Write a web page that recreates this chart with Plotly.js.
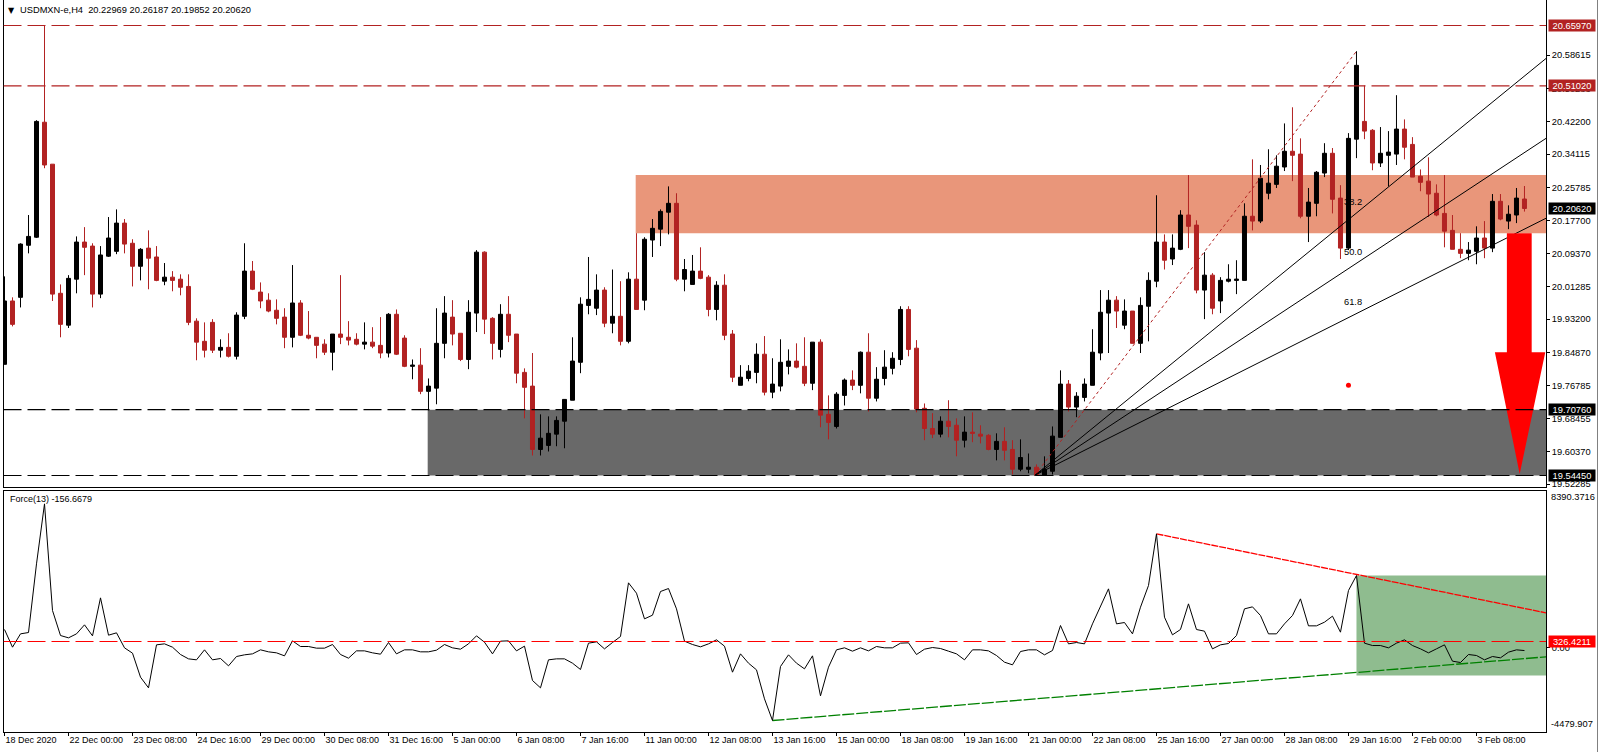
<!DOCTYPE html>
<html><head><meta charset="utf-8">
<script src="https://cdn.plot.ly/plotly-3.0.1.min.js"></script>
<style>html,body{margin:0;padding:0;background:#fff;overflow:hidden}#c{width:1599px;height:752px}</style>
</head><body><div id="c"></div>
<script>
const opens=[19.820,19.977,19.986,20.115,20.135,20.420,20.316,19.996,19.917,20.031,
20.123,20.113,19.994,20.088,20.100,20.170,20.120,20.063,20.108,20.086,
20.026,20.036,20.031,20.013,19.927,19.877,19.924,19.855,19.862,19.840,
19.939,20.051,19.999,19.979,19.954,19.937,19.887,19.972,19.892,19.887,
19.870,19.850,19.895,19.887,19.882,19.870,19.875,19.867,19.848,19.944,
19.885,19.815,19.818,19.753,19.761,19.872,19.937,19.897,19.832,19.947,
20.098,19.934,19.857,19.944,19.895,19.800,19.766,19.609,19.619,19.647,
19.679,19.731,19.825,19.966,19.959,20.004,19.922,19.939,19.877,20.031,
19.979,20.128,20.155,20.197,20.219,20.031,20.018,20.051,20.036,19.956,
20.016,19.895,19.768,19.785,19.800,19.845,19.751,19.766,19.815,19.828,
19.815,19.773,19.875,19.696,19.666,19.743,19.781,19.768,19.850,19.736,
19.785,19.810,19.832,19.956,19.860,19.711,19.661,19.647,19.679,19.669,
19.632,19.652,19.647,19.644,19.609,19.629,19.609,19.560,19.560,19.565,
19.545,19.555,19.639,19.771,19.714,19.738,19.768,19.848,19.947,19.979,
19.917,19.952,19.872,19.964,20.026,20.123,20.081,20.105,20.190,20.165,
20.004,20.041,19.977,20.026,20.028,20.028,20.187,20.175,20.244,20.266,
20.309,20.348,20.341,20.187,20.219,20.294,20.343,20.232,20.108,20.378,
20.422,20.400,20.319,20.338,20.341,20.403,20.365,20.286,20.274,20.244,
20.194,20.152,20.105,20.095,20.100,20.133,20.108,20.224,20.175,20.190,
20.22969];
const highs=[20.038,19.986,20.120,20.190,20.425,20.660,20.316,20.018,20.041,20.137,
20.160,20.120,20.113,20.185,20.204,20.180,20.130,20.108,20.152,20.113,
20.071,20.051,20.043,20.043,19.934,19.924,19.932,19.882,19.897,19.949,
20.120,20.076,20.023,19.996,19.981,19.959,20.066,19.979,19.952,19.887,
19.882,19.895,20.041,19.927,19.897,19.924,19.912,19.937,19.947,19.956,
19.892,19.832,19.860,19.785,19.959,19.989,19.979,19.897,19.979,20.103,
20.100,19.937,19.969,19.989,19.895,19.810,19.848,19.696,19.691,19.691,
19.733,19.887,19.986,20.086,20.043,20.011,20.055,20.026,20.048,20.145,
20.135,20.180,20.204,20.261,20.244,20.081,20.091,20.110,20.041,20.026,
20.043,19.905,19.818,19.818,19.872,19.890,19.835,19.882,19.857,19.872,
19.887,19.875,19.882,19.743,19.751,19.785,19.805,19.852,19.897,19.813,
19.855,19.850,19.964,19.964,19.880,19.723,19.699,19.691,19.731,19.686,
19.691,19.701,19.669,19.647,19.649,19.664,19.632,19.634,19.599,19.572,
19.592,19.666,19.805,19.781,19.751,19.785,19.907,20.004,20.004,19.989,
19.981,19.952,19.986,20.048,20.239,20.142,20.142,20.202,20.289,20.177,
20.098,20.046,20.036,20.068,20.078,20.219,20.328,20.314,20.353,20.338,
20.417,20.457,20.380,20.257,20.299,20.368,20.356,20.264,20.393,20.596,
20.511,20.403,20.408,20.398,20.487,20.427,20.383,20.303,20.333,20.266,
20.289,20.190,20.145,20.123,20.162,20.175,20.242,20.242,20.214,20.257,
20.26187];
const lows=[19.820,19.914,19.961,20.095,20.133,20.306,19.977,19.887,19.910,19.996,
20.041,19.961,19.984,20.086,20.093,20.095,20.013,20.028,20.006,20.026,
20.016,20.001,19.991,19.917,19.830,19.837,19.848,19.837,19.837,19.832,
19.932,20.004,19.959,19.949,19.919,19.860,19.862,19.890,19.882,19.835,
19.843,19.805,19.870,19.867,19.867,19.857,19.860,19.835,19.837,19.843,
19.813,19.783,19.746,19.706,19.721,19.835,19.867,19.828,19.808,19.900,
19.895,19.832,19.837,19.875,19.773,19.686,19.594,19.594,19.604,19.617,
19.612,19.731,19.798,19.944,19.942,19.912,19.897,19.867,19.872,19.956,
19.954,20.086,20.113,20.142,20.026,20.001,20.018,20.031,19.939,19.929,
19.880,19.776,19.768,19.778,19.773,19.743,19.736,19.753,19.795,19.810,
19.766,19.756,19.664,19.634,19.661,19.718,19.756,19.748,19.703,19.728,
19.768,19.795,19.818,19.840,19.701,19.632,19.637,19.639,19.639,19.592,
19.614,19.627,19.624,19.607,19.582,19.582,19.547,19.555,19.550,19.545,
19.545,19.547,19.639,19.703,19.689,19.728,19.768,19.830,19.848,19.910,
19.907,19.872,19.848,19.877,20.011,20.055,20.066,20.103,20.108,19.996,
19.932,19.944,19.947,20.023,19.994,20.028,20.152,20.170,20.229,20.257,
20.299,20.274,20.182,20.123,20.187,20.284,20.194,20.081,20.103,20.331,
20.378,20.301,20.309,20.261,20.314,20.328,20.284,20.249,20.185,20.187,
20.110,20.105,20.083,20.078,20.068,20.083,20.098,20.177,20.155,20.170,
20.19852];
const closes=[19.977,19.919,20.118,20.137,20.422,20.314,19.994,19.919,20.033,20.123,
20.110,19.994,20.091,20.133,20.170,20.118,20.063,20.105,20.083,20.028,
20.036,20.028,20.011,19.924,19.875,19.855,19.855,19.862,19.840,19.942,
20.051,20.006,19.977,19.952,19.934,19.887,19.972,19.892,19.885,19.867,
19.850,19.895,19.887,19.880,19.870,19.875,19.865,19.848,19.944,19.845,
19.815,19.818,19.753,19.766,19.872,19.947,19.895,19.832,19.949,20.098,
19.932,19.872,19.944,19.892,19.798,19.763,19.609,19.637,19.649,19.681,
19.733,19.828,19.969,19.981,20.004,19.922,19.939,19.877,20.031,19.956,
20.130,20.157,20.199,20.219,20.031,20.055,20.051,20.033,19.956,20.016,
19.892,19.788,19.788,19.803,19.845,19.751,19.771,19.825,19.828,19.813,
19.773,19.875,19.694,19.676,19.746,19.781,19.768,19.850,19.736,19.783,
19.813,19.835,19.956,19.857,19.709,19.661,19.647,19.679,19.666,19.632,
19.652,19.649,19.642,19.609,19.629,19.607,19.560,19.589,19.565,19.545,
19.560,19.642,19.771,19.714,19.741,19.771,19.850,19.949,19.979,19.952,
19.952,19.872,19.966,20.028,20.123,20.078,20.108,20.190,20.162,20.004,
20.041,19.959,20.028,20.031,20.031,20.187,20.175,20.281,20.269,20.311,
20.348,20.338,20.187,20.222,20.296,20.343,20.229,20.108,20.380,20.561,
20.398,20.319,20.343,20.346,20.403,20.358,20.284,20.271,20.242,20.190,
20.150,20.105,20.095,20.103,20.133,20.108,20.224,20.180,20.192,20.232,
20.2062];
const force=[967,23,735,806,4473,7677,1981,646,522,735,
1216,628,2657,664,789,-12,-297,-1579,-2148,148,
201,23,-368,-600,-653,-119,-653,-582,-973,-475,
-386,-333,-119,-226,-279,-440,361,59,59,-30,
-30,166,-368,-564,-173,-173,-279,-351,272,-333,
-119,-119,-226,-226,-137,166,-12,-84,201,628,
290,-333,344,361,-173,77,-1757,-2148,-653,-600,
-600,-831,-1169,237,308,-66,272,593,3459,2907,
1536,1732,2996,3156,2070,344,166,41,201,415,
77,-1312,-333,-831,-1187,-2736,-3893,-1009,-386,-831,
-1134,-440,-2576,-1045,-119,-12,-190,-12,-173,59,
-12,-12,237,255,-368,-84,5,-48,-190,-333,
-653,-119,-119,-173,-422,-778,-920,-208,-119,-119,
-386,-155,1180,201,272,201,1269,2159,3138,1269,
1340,735,2159,3316,6075,1625,682,967,2337,967,
878,-66,148,219,646,2070,2177,1714,735,735,
1269,1714,2604,1162,1162,1358,1679,824,3049,3850,
237,112,112,-12,237,415,112,-66,-279,-66,
148,-724,-796,-368,-422,-653,-475,-546,-244,-119,
-156.67];
const dateLabels=["18 Dec 2020","22 Dec 00:00","23 Dec 08:00","24 Dec 16:00","29 Dec 00:00","30 Dec 08:00","31 Dec 16:00","5 Jan 00:00","6 Jan 08:00","7 Jan 16:00","11 Jan 00:00","12 Jan 08:00","13 Jan 16:00","15 Jan 00:00","18 Jan 08:00","19 Jan 16:00","21 Jan 00:00","22 Jan 08:00","25 Jan 16:00","27 Jan 00:00","28 Jan 08:00","29 Jan 16:00","2 Feb 00:00","3 Feb 08:00"];
const priceTicks=[20.58615,20.50283,20.42200,20.34115,20.25785,20.17700,20.09370,20.01285,19.93200,19.84870,19.76785,19.68455,19.60370,19.52285];
const priceLabels=["20.58615","20.50283","20.42200","20.34115","20.25785","20.17700","20.09370","20.01285","19.93200","19.84870","19.76785","19.68455","19.60370","19.52285"];
const levelsRed=[20.6597,20.5102];
const levelsBlack=[19.7076,19.5445];
const resistanceZone=[20.145,20.289];
const forceLevel=326.4211;

const W=1599,H=752;
const FONT='"Liberation Sans",Arial,sans-serif';
const FS=9.3;
const xs=opens.map((_,i)=>i);
const xMin=-0.125,xMax=192.69,xEnd=xMax;
const RED='#B22222';
const px=v=>v/W, py=v=>1-v/H;

const traces=[
 {type:'candlestick',x:xs,open:opens,high:highs,low:lows,close:closes,xaxis:'x',yaxis:'y',
  increasing:{line:{color:'#000',width:1},fillcolor:'#000'},
  decreasing:{line:{color:RED,width:1},fillcolor:RED},whiskerwidth:0,showlegend:false,hoverinfo:'skip'},
 {type:'scatter',mode:'lines',x:[128.8,169],y:[19.545,20.596],xaxis:'x',yaxis:'y',line:{color:RED,width:1,dash:'dot'},hoverinfo:'skip'},
 {type:'scatter',mode:'lines',x:[128.8,xEnd],y:[19.545,20.578],xaxis:'x',yaxis:'y',line:{color:'#000',width:1},hoverinfo:'skip'},
 {type:'scatter',mode:'lines',x:[128.8,xEnd],y:[19.545,20.380],xaxis:'x',yaxis:'y',line:{color:'#000',width:1},hoverinfo:'skip'},
 {type:'scatter',mode:'lines',x:[128.8,xEnd],y:[19.545,20.182],xaxis:'x',yaxis:'y',line:{color:'#000',width:1},hoverinfo:'skip'},
 {type:'scatter',mode:'lines',x:[187.8,190.9,190.9,192.6,189.4,186.3,187.8,187.8],y:[20.145,20.145,19.850,19.850,19.548,19.850,19.850,20.145],xaxis:'x',yaxis:'y',fill:'toself',fillcolor:'#FF0000',line:{color:'#FF0000',width:0},hoverinfo:'skip'},
 {type:'scatter',mode:'markers',x:[168],y:[19.768],xaxis:'x',yaxis:'y',marker:{color:'#FF0000',size:5},hoverinfo:'skip'},
 {type:'scatter',mode:'lines',x:[144,xEnd],y:[6075,1857],xaxis:'x2',yaxis:'y2',line:{color:'#FF0000',width:1.3,dash:'7px,1px'},hoverinfo:'skip'},
 {type:'scatter',mode:'lines',x:[96,xEnd],y:[-3893,-493],xaxis:'x2',yaxis:'y2',line:{color:'#008000',width:1.3,dash:'12px,2px'},hoverinfo:'skip'},
 {type:'scatter',mode:'lines',x:xs,y:force,xaxis:'x2',yaxis:'y2',line:{color:'#000',width:1},hoverinfo:'skip'}
];

const shapes=[
 {type:'rect',xref:'x',yref:'y',x0:78.9,x1:xMax,y0:resistanceZone[0],y1:resistanceZone[1],fillcolor:'#E9967A',line:{width:0},layer:'below'},
 {type:'rect',xref:'x',yref:'y',x0:52.9,x1:xMax,y0:levelsBlack[1],y1:levelsBlack[0],fillcolor:'#696969',line:{width:0},layer:'below'},
 {type:'rect',xref:'x2',yref:'y2',x0:169,x1:xMax,y0:-1487,y1:3850,fillcolor:'#8FBC8F',line:{width:0},layer:'below'},
 {type:'line',xref:'x2',yref:'y2',x0:xMin,x1:xMax,y0:forceLevel,y1:forceLevel,line:{color:'#FF0000',width:1.2,dash:'18px,6px'}},
 {type:'line',xref:'paper',yref:'paper',x0:px(1597.5),x1:px(1597.5),y0:0,y1:1,line:{color:'#808080',width:1}}
];
levelsRed.forEach(v=>shapes.push({type:'line',xref:'x',yref:'y',x0:xMin,x1:xMax,y0:v,y1:v,line:{color:RED,width:1.2,dash:'18px,6px'}}));
levelsBlack.forEach(v=>shapes.push({type:'line',xref:'x',yref:'y',x0:xMin,x1:xMax,y0:v,y1:v,line:{color:'#000',width:1.2,dash:'18px,6px'}}));

function label(v,bg,yref){return {xref:'paper',yref:yref||'y',x:px(1548),y:v,xanchor:'left',yanchor:'middle',text:v.toFixed(yref?4:5),showarrow:false,bgcolor:bg,width:46,height:11,font:{family:FONT,size:FS,color:'#fff'},borderpad:0};}
const black={family:FONT,size:FS,color:'#000'};
const small={family:FONT,size:9,color:'#000'};
const ann=[
 label(20.6597,RED),label(20.5102,RED),label(20.2062,'#000'),label(19.7076,'#000'),label(19.5445,'#000'),
 label(forceLevel,'#FF0000','y2'),
 {xref:'paper',yref:'paper',x:px(6),y:py(10),xanchor:'left',yanchor:'middle',text:'▼',showarrow:false,font:{family:'DejaVu Sans',size:8,color:'#000'}},
 {xref:'paper',yref:'paper',x:px(18),y:py(10),xanchor:'left',yanchor:'middle',text:'USDMXN-e,H4  20.22969 20.26187 20.19852 20.20620',showarrow:false,font:black},
 {xref:'paper',yref:'paper',x:px(8),y:py(499),xanchor:'left',yanchor:'middle',text:'Force(13) -156.6679',showarrow:false,font:small},
 {xref:'paper',yref:'paper',x:px(1549),y:py(497),xanchor:'left',yanchor:'middle',text:'8390.3716',showarrow:false,font:black},
 {xref:'paper',yref:'paper',x:px(1549),y:py(724),xanchor:'left',yanchor:'middle',text:'-4479.907',showarrow:false,font:black},
 {xref:'x',yref:'y',x:170,y:20.222,xanchor:'right',yanchor:'middle',text:'38.2',showarrow:false,font:black},
 {xref:'x',yref:'y',x:170,y:20.098,xanchor:'right',yanchor:'middle',text:'50.0',showarrow:false,font:black},
 {xref:'x',yref:'y',x:170,y:19.974,xanchor:'right',yanchor:'middle',text:'61.8',showarrow:false,font:black}
];

const layout={
 width:W,height:H,margin:{l:0,r:0,t:0,b:0},paper_bgcolor:'#fff',plot_bgcolor:'#fff',showlegend:false,boxgap:0.5,boxgroupgap:0,
 xaxis:{domain:[px(3.5),px(1546)],range:[xMin,xMax],anchor:'y',showgrid:false,zeroline:false,showticklabels:false,ticks:'',showline:true,linecolor:'#000',linewidth:1,rangeslider:{visible:false},fixedrange:true},
 yaxis:{domain:[py(487),1],range:[19.51596,20.7229],anchor:'x',side:'right',showgrid:false,zeroline:false,showline:true,mirror:true,linecolor:'#000',linewidth:1,ticks:'outside',ticklen:3,tickcolor:'#000',tickvals:priceTicks,ticktext:priceLabels,tickfont:black,fixedrange:true},
 xaxis2:{domain:[px(3.5),px(1546)],range:[xMin,xMax],anchor:'y2',showgrid:false,zeroline:false,showline:true,mirror:true,linecolor:'#000',linewidth:1,ticks:'outside',ticklen:3,tickcolor:'#000',tickvals:dateLabels.map((_,i)=>i*8),ticktext:dateLabels,ticklabelposition:'outside right',tickfont:small,tickangle:0,fixedrange:true},
 yaxis2:{domain:[py(731.5),py(490.5)],range:[-4479.907,8390.3716],anchor:'x2',side:'right',showgrid:false,zeroline:false,showline:true,mirror:true,linecolor:'#000',linewidth:1,ticks:'outside',ticklen:3,tickcolor:'#000',tickvals:[0],ticktext:['0.00'],tickfont:black,fixedrange:true},
 shapes:shapes,annotations:ann
};
Plotly.newPlot('c',traces,layout,{displayModeBar:false,responsive:false});
</script></body></html>
